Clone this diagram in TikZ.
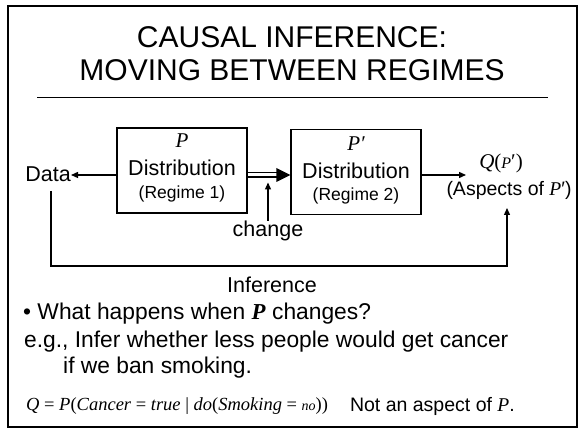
\documentclass[tikz,border=0pt]{standalone}
\usepackage{fontspec}
\setmainfont{Liberation Serif}
\setsansfont{Liberation Sans}
\usetikzlibrary{arrows.meta,calc}
\newcommand{\bodyfs}{\fontsize{21.5pt}{24pt}\selectfont\sffamily}
\newcommand{\smallfs}{\fontsize{17.5pt}{20pt}\selectfont\sffamily}
\newcommand{\textfs}{\fontsize{22.8pt}{26pt}\selectfont\sffamily}
\begin{document}
\begin{tikzpicture}[x=1pt,y=-1pt,
  regbox/.style={draw,line width=1.5pt,minimum width=130pt,minimum height=85pt,inner sep=0pt},
  txt/.style={inner sep=0pt,font=\bodyfs},
  stxt/.style={inner sep=0pt,font=\smallfs},
  btxt/.style={inner sep=0pt,font=\textfs},
  arr/.style={line width=1.3pt,-{Triangle[length=7pt,width=6pt]}}]
\useasboundingbox (0,0) rectangle (585,435);
\draw[line width=1.8pt] (8,6) rectangle (577,427);
% title
\node[txt,font=\fontsize{30pt}{34pt}\selectfont\sffamily] (t1) at (292,37) {CAUSAL INFERENCE:};
\node[txt,font=\fontsize{30pt}{34pt}\selectfont\sffamily] (t2) at (292,70) {MOVING BETWEEN REGIMES};
\coordinate (l1) at (37,97);
\coordinate (l2) at (548,97);
\draw[line width=0.8pt] (l1) -- (l2);
% boxes
\node[regbox] (b1) at (182,170.5) {};
\node[regbox] (b2) at (356,172) {};
\node[inner sep=0pt,font=\fontsize{21pt}{24pt}\selectfont\itshape] (p1) at (182,141) {P};
\node[txt] (d1) at (182,168) {Distribution};
\node[stxt] (r1) at (182,194) {(Regime 1)};
\node[inner sep=0pt,font=\fontsize{21pt}{24pt}\selectfont\itshape] (p2) at (356,144) {P′};
\node[txt] (d2) at (356,171) {Distribution};
\node[stxt] (r2) at (356,196) {(Regime 2)};
% data and Q
\node[txt,anchor=east] (data) at (71,174) {Data};
\node[inner sep=0pt,font=\fontsize{21pt}{24pt}\selectfont] (q) at (501,163) {\textit{Q}(\textit{\fontsize{16pt}{18pt}\selectfont P}′)};
\node[inner sep=0pt,font=\fontsize{19.5pt}{22pt}\selectfont\sffamily] (asp) at (509,190) {(Aspects of {\rmfamily\itshape P}′)};
\coordinate (y1) at (0,175);
\draw[arr] (b1.west |- y1) -- (data.east |- y1);
\draw[line width=1.4pt,double distance=3pt,shorten >=12pt] (b1.east |- y1) -- (b2.west |- y1);
\coordinate (ah) at (b2.west |- y1);
\fill ($(ah)+(-14,-7)$) -- (ah) -- ($(ah)+(-14,7)$) -- cycle;
\draw[arr] (b2.east |- y1) -- (466,175);
% change
\node[txt] (chg) at (268,231) {change};
\coordinate (ct) at (268,182.5);
\draw[arr] (chg.north) -- (ct);
% inference loop
\coordinate (c1) at (51,266);
\coordinate (c2) at (507,266);
\draw[line width=1.3pt,-{Triangle[length=7pt,width=6pt]}] (51,191) -- (c1) -- (c2) -- (507,208);
\node[txt] (inf) at (272,285) {Inference};
% text
\node[btxt,anchor=west] (bul) at (23,314) {• What happens when \textbf{\textit{\rmfamily P}} changes?};
\node[btxt,anchor=west] (eg) at (24,342) {e.g., Infer whether less people would get cancer};
\node[btxt,anchor=west] (eg2) at (63,368) {if we ban smoking.};
\node[inner sep=0pt,anchor=west,font=\fontsize{18.5pt}{20pt}\selectfont\rmfamily] (form) at (26,406) {\textit{Q} = \textit{P}(\textit{Cancer} = \textit{true} | \textit{do}(\textit{Smoking} = {\fontsize{14pt}{16pt}\selectfont\textit{no}}))};
\node[inner sep=0pt,anchor=east,font=\fontsize{19.5pt}{22pt}\selectfont\sffamily] (na) at (515,406) {Not an aspect of {\rmfamily\itshape P}.};
\end{tikzpicture}
\end{document}
